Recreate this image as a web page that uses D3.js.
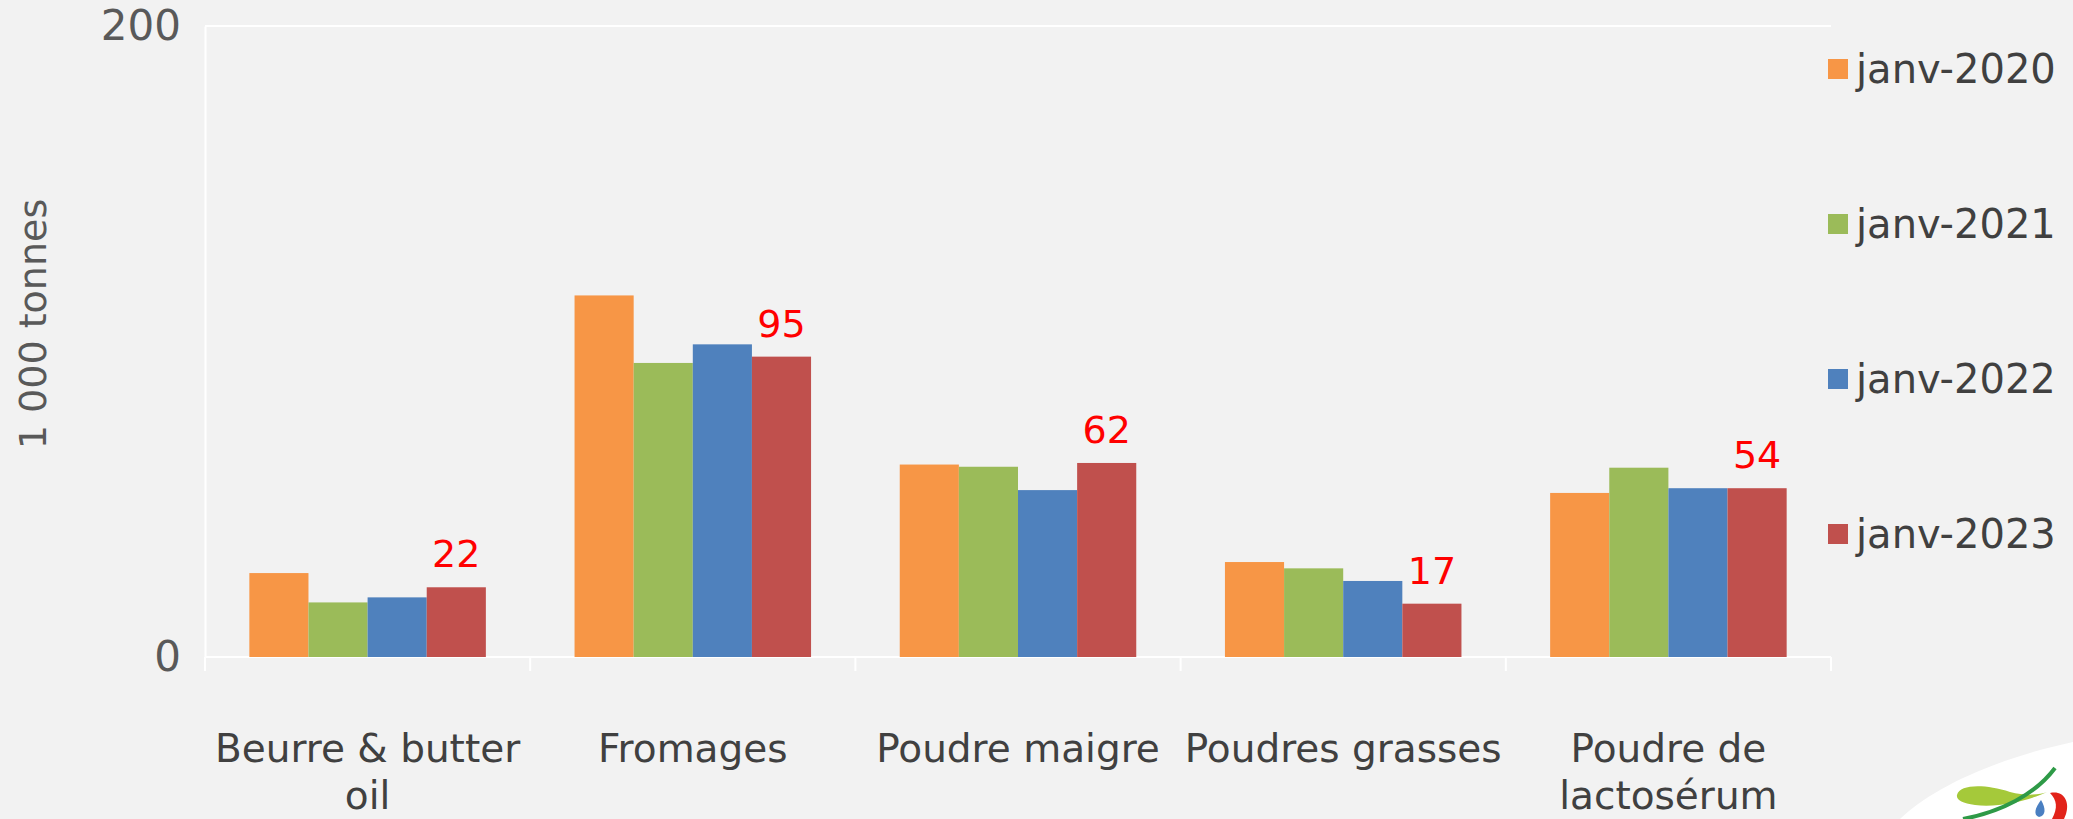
<!DOCTYPE html>
<html>
<head>
<meta charset="utf-8">
<script src="https://cdn.jsdelivr.net/npm/d3@7"></script>
<style>
  html, body { margin: 0; padding: 0; background: #f2f2f2; }
  svg text { font-family: "Century Gothic", "DejaVu Sans", sans-serif; }
</style>
</head>
<body>
<div id="chart"></div>
<script>
"use strict"

// data (1 000 tonnes)
const categories = ["Beurre & butter\noil", "Fromages", "Poudre maigre", "Poudres grasses", "Poudre de\nlactosérum"];
const seriesNames = ["janv-2020", "janv-2021", "janv-2022", "janv-2023"];
const janv2020 = [26.6, 114.6, 61.0, 30.1, 52.0];
const janv2021 = [17.3, 93.2, 60.3, 28.1, 60.0];
const janv2022 = [18.9, 99.1, 52.9, 24.1, 53.5];
const janv2023 = [22.1, 95.2, 61.5, 16.9, 53.5];
const labels2023 = ["22", "95", "62", "17", "54"];
const yTicks = [0, 200];

const colors = ["#f79646", "#9bbb59", "#4f81bd", "#c0504d"];
const allSeries = [janv2020, janv2021, janv2022, janv2023];

let W = 2073, H = 819;
let margin = {top: 26, right: 242, bottom: 162, left: 205};

let svg = d3.select("#chart")
  .append("svg")
  .attr("width", W)
  .attr("height", H);

svg.append("rect").attr("width", W).attr("height", H).attr("fill", "#f2f2f2");

let x = d3.scaleBand()
  .domain(categories)
  .range([margin.left, W - margin.right])
  .paddingInner(0)
  .paddingOuter(0);

let xs = d3.scaleBand()
  .domain(seriesNames)
  .range([0, x.bandwidth()])
  .paddingInner(0)
  .paddingOuter(0.75);

let y = d3.scaleLinear()
  .domain([0, 200])
  .range([H - margin.bottom, margin.top]);

// top gridline
svg.append("line")
  .attr("x1", margin.left).attr("x2", W - margin.right)
  .attr("y1", y(200)).attr("y2", y(200))
  .attr("stroke", "#ffffff").attr("stroke-width", 2);

// y axis
let yAxis = svg.append("g")
  .attr("transform", "translate(" + margin.left + ",0)")
  .call(d3.axisLeft(y).tickValues(yTicks).tickSize(0).tickPadding(24));
yAxis.select(".domain").attr("stroke", "#ffffff").attr("stroke-width", 2);
yAxis.selectAll("text")
  .style("font-size", "42px")
  .attr("fill", "#595959");

// x axis with ticks between categories
let xAxis = svg.append("g")
  .attr("transform", "translate(0," + y(0) + ")");
xAxis.append("line")
  .attr("x1", margin.left).attr("x2", W - margin.right)
  .attr("stroke", "#ffffff").attr("stroke-width", 2);
let bounds = categories.map(function(c) { return x(c); }).concat([W - margin.right]);
xAxis.selectAll(".sep").data(bounds).enter()
  .append("line")
  .attr("class", "sep")
  .attr("x1", function(d) { return d; }).attr("x2", function(d) { return d; })
  .attr("y1", 0).attr("y2", 14)
  .attr("stroke", "#ffffff").attr("stroke-width", 2);

let catLabels = xAxis.selectAll(".cat").data(categories).enter()
  .append("text")
  .attr("class", "cat")
  .attr("text-anchor", "middle")
  .attr("fill", "#404040")
  .style("font-size", "39px");
catLabels.each(function(d) {
  let lines = d.split("\n");
  let t = d3.select(this);
  lines.forEach(function(l, i) {
    t.append("tspan")
      .attr("x", x(d) + x.bandwidth() / 2)
      .attr("y", 105 + i * 47)
      .text(l);
  });
});

// bars
let groups = svg.selectAll(".grp").data(categories).enter()
  .append("g")
  .attr("class", "grp")
  .attr("transform", function(d) { return "translate(" + x(d) + ",0)"; });

groups.selectAll("rect")
  .data(function(d, i) {
    return seriesNames.map(function(s, j) { return {s: s, v: allSeries[j][i], c: colors[j]}; });
  })
  .enter()
  .append("rect")
  .attr("x", function(d) { return xs(d.s); })
  .attr("y", function(d) { return y(d.v); })
  .attr("width", xs.bandwidth())
  .attr("height", function(d) { return y(0) - y(d.v); })
  .attr("fill", function(d) { return d.c; });

// labels on janv-2023
svg.selectAll(".val").data(categories).enter()
  .append("text")
  .attr("class", "val")
  .attr("x", function(d) { return x(d) + xs("janv-2023") + xs.bandwidth() / 2; })
  .attr("y", function(d, i) { return y(janv2023[i]) - 20; })
  .attr("text-anchor", "middle")
  .attr("fill", "#ff0000")
  .style("font-size", "38px")
  .text(function(d, i) { return labels2023[i]; });

// y title
svg.append("text")
  .attr("transform", "translate(46,324) rotate(-90)")
  .attr("text-anchor", "middle")
  .attr("fill", "#595959")
  .style("font-size", "38px")
  .text("1 000 tonnes");

// legend
let legendY = d3.scalePoint().domain(seriesNames).range([69, 534]);
let legend = svg.selectAll(".leg").data(seriesNames).enter()
  .append("g")
  .attr("class", "leg")
  .attr("transform", function(d) { return "translate(1828," + legendY(d) + ")"; });
legend.append("rect")
  .attr("x", 0).attr("y", -10)
  .attr("width", 20).attr("height", 20)
  .attr("fill", function(d, i) { return colors[i]; });
legend.append("text")
  .attr("x", 28).attr("y", 14)
  .attr("fill", "#404040")
  .style("font-size", "40px")
  .text(function(d) { return d; });

// logo in the corner
let logo = svg.append("g");
logo.append("path")
  .attr("d", "M1900,819 C1930,790 1990,760 2073,742 L2073,819 Z")
  .attr("fill", "#ffffff");
logo.append("path")
  .attr("d", "M1957,795 C1960,784 1985,784 2010,792 C2025,796 2040,795 2047,792 C2030,800 2000,808 1975,805 C1962,803 1956,800 1957,795 Z")
  .attr("fill", "#a5c93a");
logo.append("path")
  .attr("d", "M1963,819 C2000,812 2035,795 2055,768")
  .attr("stroke", "#2e9a47").attr("stroke-width", 4).attr("fill", "none");
logo.append("path")
  .attr("d", "M2050,793 C2064,790 2070,802 2066,814 L2064,819 L2052,819 C2058,808 2057,800 2050,793 Z")
  .attr("fill", "#e2231a");
logo.append("path")
  .attr("d", "M2041,800 C2035,808 2033,815 2039,817 C2046,816 2046,808 2041,800 Z")
  .attr("fill", "#4a7fc1");
</script>
</body>
</html>
